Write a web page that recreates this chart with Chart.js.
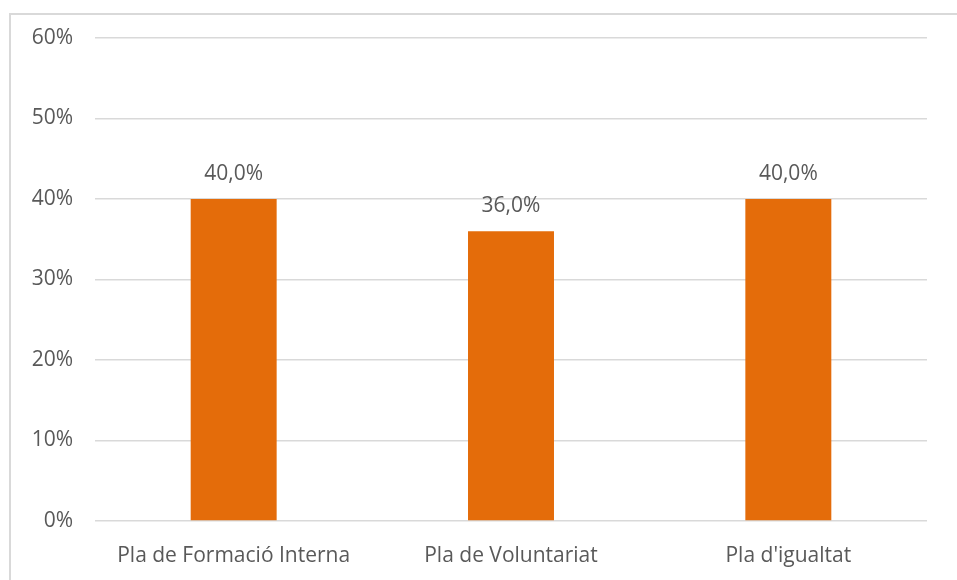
<!DOCTYPE html>
<html>
<head>
<meta charset="utf-8">
<script src="https://cdn.jsdelivr.net/npm/chart.js@4"></script>
<style>
  html,body{margin:0;padding:0;background:#fff;}
  #wrap{position:relative;width:957px;height:580px;overflow:hidden;}
  #frame{position:absolute;left:9px;top:13px;width:1000px;height:1000px;border-top:2px solid #D9D9D9;border-left:2px solid #D9D9D9;}
  canvas{position:absolute;left:0;top:0;}
</style>
</head>
<body>
<div id="wrap">
  <div id="frame"></div>
  <canvas id="chart" width="957" height="580"></canvas>
</div>
<script>
// chart data
const categories = ['Pla de Formació Interna', 'Pla de Voluntariat', "Pla d'igualtat"];
const values = [40, 36, 40]; // percent
const yTicks = [0, 10, 20, 30, 40, 50, 60];

const textColor = '#595959';
const fontFamily = '"Open Sans", sans-serif';

function pct(v){ return v.toFixed(1).replace('.', ',') + '%'; }

// draws the value over each bar
const valueLabels = {
  id:'valueLabels',
  afterDatasetsDraw(c){
    const ctx = c.ctx;
    const meta = c.getDatasetMeta(0);
    ctx.save();
    ctx.font = '21px ' + fontFamily;
    ctx.fillStyle = textColor;
    ctx.textAlign = 'center';
    ctx.textBaseline = 'middle';
    meta.data.forEach((bar,i)=>{
      ctx.fillText(pct(values[i]), bar.x, bar.y - 25);
    });
    ctx.restore();
  }
};

const chart = new Chart(document.getElementById('chart').getContext('2d'), {
  type:'bar',
  data:{
    labels:categories,
    datasets:[{data:values, backgroundColor:'#E46C0A', barPercentage:0.31, categoryPercentage:1}]
  },
  options:{
    responsive:false,
    animation:false,
    layout:{padding:{top:38, right:30, left:0, bottom:0}},
    plugins:{legend:{display:false}, tooltip:{enabled:false}},
    scales:{
      x:{
        grid:{display:false},
        border:{display:false},
        ticks:{color:textColor, font:{family:fontFamily, size:21}, padding:14},
        afterFit(s){ s.height = 59; }
      },
      y:{
        min:0, max:60,
        afterBuildTicks(s){ s.ticks = yTicks.map(v=>({value:v})); },
        grid:{color:'#D9D9D9', lineWidth:1.5, drawTicks:false},
        border:{display:false},
        ticks:{color:textColor, font:{family:fontFamily, size:21}, padding:22, callback:v=>v+'%'},
        afterFit(s){ s.width = 95; }
      }
    }
  },
  plugins:[valueLabels]
});
</script>
</body>
</html>
